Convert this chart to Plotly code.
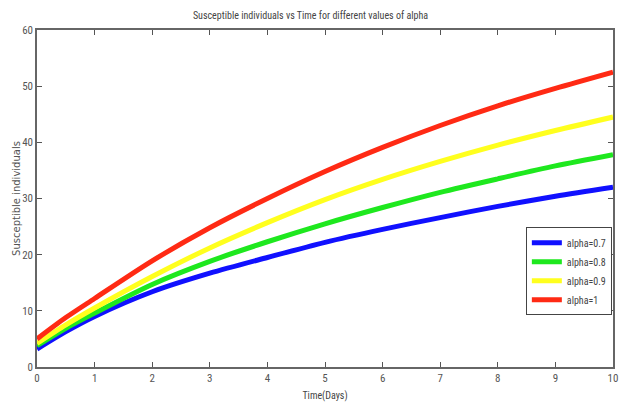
import plotly.graph_objects as go

time_days = [0, 0.5, 1, 2, 3, 4, 5, 6, 7, 8, 9, 10]
alpha_07 = [3.2, 6.3, 9.0, 13.4, 16.7, 19.5, 22.2, 24.5, 26.6, 28.6, 30.4, 32.0]
alpha_08 = [3.8, 6.9, 9.6, 14.7, 18.8, 22.3, 25.5, 28.4, 31.1, 33.5, 35.8, 37.8]
alpha_09 = [4.2, 7.5, 10.5, 16.1, 21.2, 25.7, 29.8, 33.4, 36.6, 39.5, 42.1, 44.5]
alpha_10 = [5.0, 8.8, 12.2, 18.9, 24.8, 30.0, 34.8, 39.1, 43.0, 46.5, 49.6, 52.5]

series = [
    ("alpha=0.7", alpha_07, "#1010ff"),
    ("alpha=0.8", alpha_08, "#1ee81e"),
    ("alpha=0.9", alpha_09, "#ffff1e"),
    ("alpha=1", alpha_10, "#ff2a14"),
]

x_ticks = list(range(0, 11))
y_ticks = list(range(0, 61, 10))

narrow = "Liberation Sans Narrow, Arial Narrow, Roboto Condensed, DejaVu Sans Condensed, sans-serif"

fig = go.Figure()
for name, vals, color in series:
    fig.add_trace(go.Scatter(
        x=time_days, y=vals, name=name, mode="lines",
        line=dict(color=color, width=5, shape="spline", smoothing=0.8),
    ))

axis_common = dict(
    showgrid=False, zeroline=False, showline=True, linecolor="#666666", linewidth=1.5,
    mirror="ticks", ticks="inside", ticklen=5, tickcolor="#555555",
    tickfont=dict(family=narrow, size=11, color="#555555"),
)

fig.update_layout(
    width=621, height=406,
    margin=dict(l=37, r=8, t=30, b=39, autoexpand=False),
    paper_bgcolor="white", plot_bgcolor="white",
    title=dict(text="Susceptible individuals vs Time for different values of alpha",
               x=0.5, xanchor="center", y=0.962, yanchor="middle",
               font=dict(family=narrow, size=10, color="#444444")),
    xaxis=dict(range=[0, 10], tickvals=x_ticks,
               title=dict(text="Time(Days)", standoff=8,
                          font=dict(family=narrow, size=10, color="#444444")),
               **axis_common),
    yaxis=dict(range=[0, 60], tickvals=y_ticks,
               title=dict(text="Susceptible individuals", standoff=0,
                          font=dict(family="DejaVu Sans, sans-serif", size=10, color="#555555")),
               **axis_common),
    legend=dict(x=0.998, y=0.415, xanchor="right", yanchor="top",
                bgcolor="white", bordercolor="#444444", borderwidth=1,
                font=dict(family=narrow, size=10, color="#444444"),
                tracegroupgap=0, itemwidth=30),
    showlegend=True,
)

fig.write_html("out.html", config={"displayModeBar": False},
               post_script="document.body.style.margin='0';document.body.style.overflow='hidden';")
